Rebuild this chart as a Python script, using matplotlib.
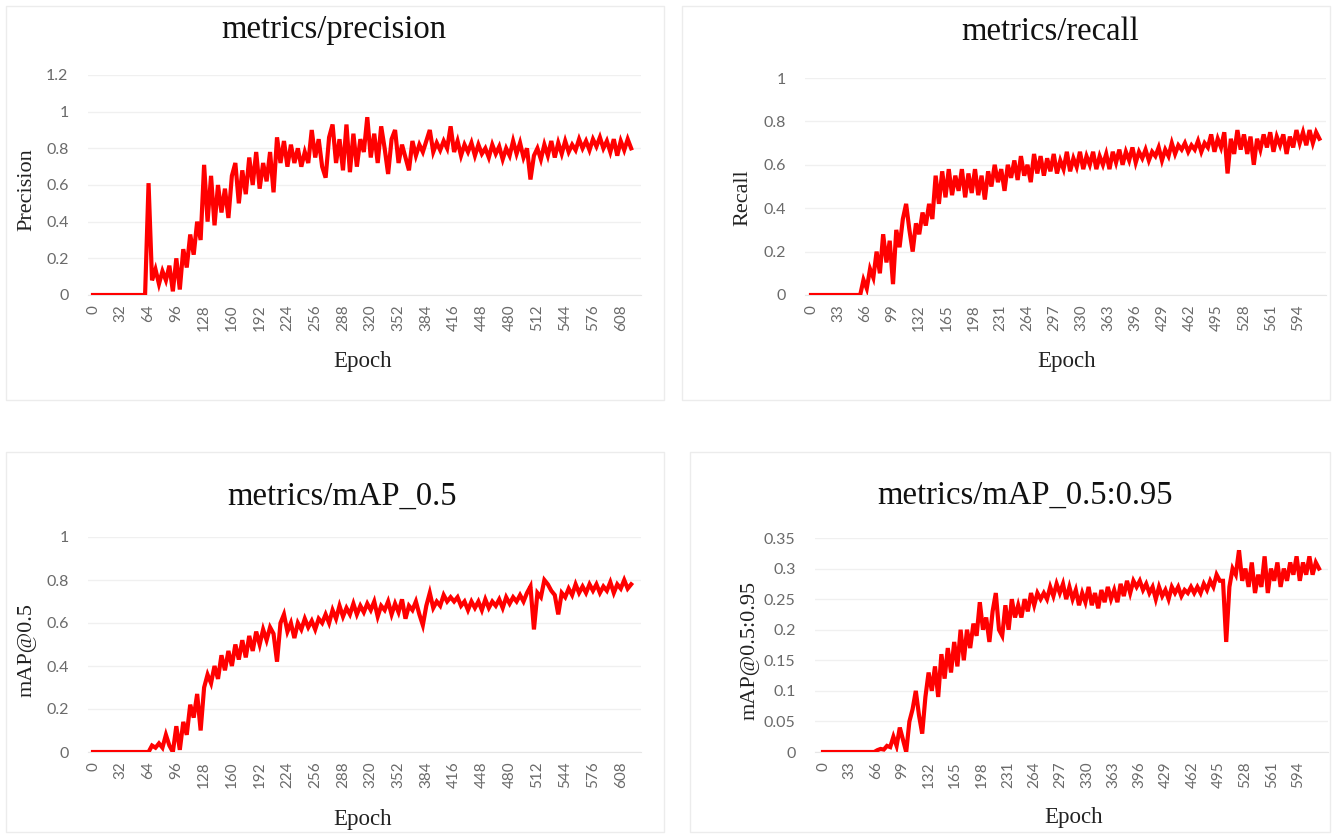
import numpy as np
import matplotlib
matplotlib.use("Agg")
import matplotlib.pyplot as plt
from matplotlib.patches import Rectangle

EPOCH_STEP = 4

precision = [
    0, 0, 0, 0, 0, 0, 0, 0, 0, 0, 0, 0, 0, 0, 0, 0,            # 0-60
    0.61, 0.08, 0.14, 0.06, 0.13, 0.08, 0.16, 0.02, 0.20, 0.03,  # 64-100
    0.25, 0.15, 0.33, 0.22, 0.40, 0.30, 0.71, 0.40, 0.65, 0.38,  # 104-140
    0.60, 0.45, 0.58, 0.42, 0.65, 0.72, 0.50, 0.68, 0.55, 0.75,  # 144-180
    0.60, 0.78, 0.58, 0.72, 0.62, 0.78, 0.56, 0.86, 0.72, 0.84,  # 184-220
    0.70, 0.82, 0.72, 0.80, 0.70, 0.78, 0.72, 0.90, 0.75, 0.85,  # 224-260
    0.70, 0.64, 0.86, 0.93, 0.72, 0.85, 0.68, 0.93, 0.67, 0.88,  # 264-300
    0.70, 0.85, 0.78, 0.97, 0.75, 0.88, 0.72, 0.92, 0.80, 0.66,  # 304-340
    0.85, 0.90, 0.72, 0.82, 0.75, 0.68, 0.84, 0.76, 0.82, 0.78,  # 344-380
    0.84, 0.90, 0.78, 0.83, 0.79, 0.84, 0.80, 0.92, 0.78, 0.84,  # 384-420
    0.76, 0.82, 0.78, 0.83, 0.76, 0.82, 0.77, 0.80, 0.75, 0.82,  # 424-460
    0.77, 0.81, 0.74, 0.80, 0.76, 0.84, 0.77, 0.83, 0.75, 0.80,  # 464-500
    0.63, 0.76, 0.80, 0.74, 0.82, 0.76, 0.84, 0.75, 0.83, 0.77,  # 504-540
    0.84, 0.78, 0.82, 0.79, 0.85, 0.80, 0.84, 0.79, 0.85, 0.81,  # 544-580
    0.86, 0.80, 0.84, 0.78, 0.85, 0.76, 0.84, 0.79, 0.85, 0.80,  # 584-620
]

recall = [
    0, 0, 0, 0, 0, 0, 0, 0, 0, 0, 0, 0, 0, 0, 0, 0,            # 0-60
    0.07, 0.03, 0.12, 0.08, 0.20, 0.10, 0.28, 0.15, 0.25, 0.05,  # 64-100
    0.30, 0.22, 0.35, 0.42, 0.30, 0.20, 0.33, 0.28, 0.38, 0.32,  # 104-140
    0.42, 0.35, 0.55, 0.42, 0.57, 0.45, 0.58, 0.46, 0.55, 0.48,  # 144-180
    0.58, 0.45, 0.56, 0.47, 0.58, 0.46, 0.55, 0.44, 0.57, 0.50,  # 184-220
    0.60, 0.52, 0.58, 0.48, 0.60, 0.54, 0.62, 0.53, 0.64, 0.55,  # 224-260
    0.60, 0.52, 0.65, 0.56, 0.64, 0.55, 0.63, 0.57, 0.65, 0.56,  # 264-300
    0.62, 0.58, 0.66, 0.57, 0.63, 0.59, 0.66, 0.58, 0.64, 0.60,  # 304-340
    0.66, 0.58, 0.64, 0.60, 0.65, 0.58, 0.66, 0.61, 0.67, 0.60,  # 344-380
    0.66, 0.62, 0.68, 0.61, 0.66, 0.63, 0.67, 0.62, 0.66, 0.64,  # 384-420
    0.68, 0.62, 0.67, 0.64, 0.70, 0.65, 0.69, 0.67, 0.70, 0.66,  # 424-460
    0.69, 0.67, 0.71, 0.66, 0.70, 0.68, 0.74, 0.66, 0.72, 0.68,  # 464-500
    0.75, 0.56, 0.72, 0.65, 0.76, 0.67, 0.74, 0.65, 0.73, 0.60,  # 504-540
    0.72, 0.67, 0.74, 0.68, 0.75, 0.66, 0.73, 0.69, 0.74, 0.65,  # 544-580
    0.73, 0.68, 0.76, 0.70, 0.75, 0.69, 0.76, 0.70, 0.75, 0.72,  # 584-620
]

map50 = [
    0, 0, 0, 0, 0, 0, 0, 0, 0, 0, 0, 0, 0, 0, 0, 0,            # 0-60
    0.00, 0.03, 0.02, 0.04, 0.02, 0.08, 0.03, 0.00, 0.12, 0.01,  # 64-100
    0.14, 0.08, 0.22, 0.16, 0.27, 0.10, 0.30, 0.36, 0.32, 0.40,  # 104-140
    0.34, 0.45, 0.38, 0.47, 0.40, 0.50, 0.43, 0.52, 0.44, 0.54,  # 144-180
    0.47, 0.56, 0.50, 0.57, 0.52, 0.58, 0.55, 0.42, 0.60, 0.64,  # 184-220
    0.56, 0.60, 0.53, 0.60, 0.57, 0.62, 0.58, 0.61, 0.57, 0.62,  # 224-260
    0.60, 0.64, 0.60, 0.66, 0.62, 0.68, 0.63, 0.67, 0.64, 0.69,  # 264-300
    0.64, 0.68, 0.65, 0.69, 0.66, 0.70, 0.63, 0.68, 0.66, 0.70,  # 304-340
    0.64, 0.69, 0.65, 0.71, 0.62, 0.68, 0.66, 0.70, 0.64, 0.59,  # 344-380
    0.68, 0.74, 0.67, 0.70, 0.68, 0.73, 0.70, 0.72, 0.70, 0.72,  # 384-420
    0.68, 0.70, 0.66, 0.70, 0.67, 0.70, 0.66, 0.71, 0.67, 0.70,  # 424-460
    0.68, 0.71, 0.67, 0.72, 0.69, 0.72, 0.70, 0.73, 0.70, 0.74,  # 464-500
    0.77, 0.57, 0.74, 0.72, 0.80, 0.78, 0.75, 0.73, 0.64, 0.74,  # 504-540
    0.72, 0.76, 0.73, 0.78, 0.74, 0.77, 0.74, 0.78, 0.75, 0.78,  # 544-580
    0.74, 0.77, 0.75, 0.79, 0.74, 0.78, 0.76, 0.80, 0.76, 0.78,  # 584-620
]

map5095 = [
    0, 0, 0, 0, 0, 0, 0, 0, 0, 0, 0, 0, 0, 0, 0, 0,                      # 0-60
    0.000, 0.003, 0.005, 0.004, 0.010, 0.008, 0.025, 0.010, 0.040, 0.020,  # 64-100
    0.000, 0.050, 0.070, 0.100, 0.060, 0.030, 0.090, 0.130, 0.100, 0.140,  # 104-140
    0.090, 0.160, 0.120, 0.170, 0.130, 0.180, 0.140, 0.200, 0.150, 0.200,  # 144-180
    0.170, 0.210, 0.190, 0.245, 0.200, 0.220, 0.180, 0.230, 0.260, 0.200,  # 184-220
    0.190, 0.240, 0.200, 0.250, 0.220, 0.240, 0.220, 0.250, 0.230, 0.260,  # 224-260
    0.240, 0.260, 0.250, 0.260, 0.250, 0.270, 0.255, 0.275, 0.260, 0.275,  # 264-300
    0.250, 0.270, 0.250, 0.265, 0.240, 0.260, 0.245, 0.270, 0.240, 0.260,  # 304-340
    0.235, 0.265, 0.245, 0.270, 0.250, 0.265, 0.245, 0.275, 0.255, 0.280,  # 344-380
    0.260, 0.280, 0.270, 0.280, 0.265, 0.275, 0.260, 0.270, 0.250, 0.270,  # 384-420
    0.255, 0.265, 0.250, 0.270, 0.260, 0.270, 0.255, 0.265, 0.260, 0.270,  # 424-460
    0.260, 0.270, 0.260, 0.275, 0.265, 0.280, 0.270, 0.290, 0.280, 0.280,  # 464-500
    0.180, 0.270, 0.300, 0.290, 0.330, 0.280, 0.300, 0.270, 0.310, 0.260,  # 504-540
    0.290, 0.270, 0.320, 0.260, 0.300, 0.280, 0.310, 0.270, 0.300, 0.280,  # 544-580
    0.310, 0.290, 0.320, 0.280, 0.310, 0.290, 0.320, 0.290, 0.310, 0.300,  # 584-620
]

titles = ["metrics/precision", "metrics/recall", "metrics/mAP_0.5", "metrics/mAP_0.5:0.95"]
ylabels = ["Precision", "Recall", "mAP@0.5", "mAP@0.5:0.95"]
xlabel = "Epoch"
xtick_steps = [32, 33, 32, 33]
yticks_list = [
    [0, 0.2, 0.4, 0.6, 0.8, 1.0, 1.2],
    [0, 0.2, 0.4, 0.6, 0.8, 1.0],
    [0, 0.2, 0.4, 0.6, 0.8, 1.0],
    [0, 0.05, 0.1, 0.15, 0.2, 0.25, 0.3, 0.35],
]
series = [precision, recall, map50, map5095]

W, H = 1335, 835
fig = plt.figure(figsize=(W / 100, H / 100), dpi=100, facecolor="white")

def fx(px):
    return px / W

def fy(py):
    return 1 - py / H

# layout in pixels: (axes left, right, top, bottom, epoch0 px, px per epoch)
layouts = [
    (88, 641, 75, 295, 93, 0.868),
    (805, 1326, 78, 295, 811, 0.82),
    (88, 641, 537, 752, 93, 0.868),
    (815, 1328, 538, 752, 823, 0.80),
]
panels = [(6, 6, 664, 400), (682, 6, 1330, 400), (6, 452, 664, 832), (690, 452, 1330, 832)]
title_pos = [(334, 30), (1050, 32), (342, 497), (1025, 495)]
ylabel_pos = [(27, 190), (743, 198), (27, 650), (750, 650)]
xlabel_pos = [(363, 362), (1067, 362), (363, 820), (1074, 818)]

serif = ["Liberation Serif", "DejaVu Serif"]
tickfont = ["Lato", "DejaVu Sans"]

for i in range(4):
    px0, py0, px1, py1 = panels[i]
    fig.patches.append(Rectangle((fx(px0), fy(py1)), fx(px1 - px0), (py1 - py0) / H,
                                 transform=fig.transFigure, facecolor="white",
                                 edgecolor="#ececec", linewidth=1.0, zorder=-5))

    l, r, t, b, e0, ppe = layouts[i]
    ax = fig.add_axes([fx(l), fy(b), fx(r - l), (b - t) / H])
    ax.set_zorder(2)
    vals = series[i]
    epochs = np.arange(len(vals)) * EPOCH_STEP
    ax.plot(epochs, vals, color="#ff0000", linewidth=3.0, solid_joinstyle="miter", zorder=3)

    ax.set_xlim(-(e0 - l) / ppe, (r - e0) / ppe)
    yt = yticks_list[i]
    ax.set_ylim(0, yt[-1])
    ax.set_yticks(yt)
    ax.set_yticklabels([("%g" % v) for v in yt], fontsize=11.5, color="#6a6a6a", family=tickfont)
    step = xtick_steps[i]
    xt = list(range(0, 620, step))
    ax.set_xticks(xt)
    ax.set_xticklabels([str(v) for v in xt], rotation=90, fontsize=11, color="#6a6a6a",
                       family=tickfont)
    ax.tick_params(axis="both", length=0)
    ax.tick_params(axis="x", pad=7)
    ax.tick_params(axis="y", pad=14)
    ax.grid(axis="y", color="#f0f0f0", linewidth=1.0, zorder=0)
    ax.set_axisbelow(True)
    for s in ["top", "right", "left"]:
        ax.spines[s].set_visible(False)
    ax.spines["bottom"].set_color("#e6e6e6")
    ax.set_facecolor("none")

    tx, ty = title_pos[i]
    fig.text(fx(tx), fy(ty), titles[i], ha="center", va="center", fontsize=23.5,
             family=serif, color="#111111")
    lx, ly = ylabel_pos[i]
    fig.text(fx(lx), fy(ly), ylabels[i], ha="center", va="center", rotation=90,
             fontsize=16, family=serif, color="#222222")
    ex, ey = xlabel_pos[i]
    fig.text(fx(ex), fy(ey), xlabel, ha="center", va="center", fontsize=16.5,
             family=serif, color="#222222")

fig.savefig("out.png", dpi=100, facecolor="white")
